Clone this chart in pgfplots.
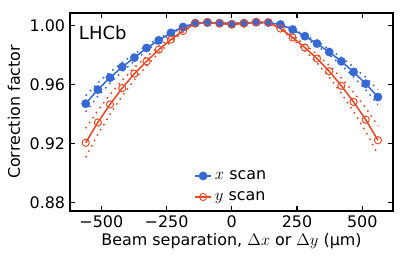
\documentclass[border=0pt]{standalone}
\usepackage{fontspec}
\setmainfont{DejaVu Sans}
\usepackage{pgfplots}
\pgfplotsset{compat=1.18}
\definecolor{cblue}{RGB}{55,105,212}
\definecolor{cred}{RGB}{232,72,35}
\begin{document}
\fontsize{11.5}{13.8}\selectfont
\begin{tikzpicture}
\begin{axis}[
  scale only axis,
  width=232.6bp, height=142.6bp,
  xmin=-620, xmax=618,
  ymin=0.8745, ymax=1.0083,
  axis line style={line width=0.9bp},
  every tick/.style={line width=0.8bp, black},
  major tick length=3.6bp,
  tick align=inside,
  xtick={-500,-250,0,250,500},
  xticklabels={−500,−250,0,250,500},
  ytick={0.88,0.92,0.96,1.00},
  yticklabels={0.88,0.92,0.96,1.00},
  minor tick num=0,
  tick label style={font=\fontsize{11.5}{13.8}\selectfont},
  xticklabel style={yshift=0.5bp},
  yticklabel style={xshift=0.5bp},
  label style={font=\fontsize{11.5}{13.8}\selectfont},
  xlabel={Beam separation, $\Delta x$ or $\Delta y$ (μm)},
  ylabel={Correction factor},
  xlabel style={yshift=4bp},
  ylabel style={yshift=-1bp},
  legend style={draw=none, fill=none, at={(0.5,0.02)}, anchor=south,
    font=\fontsize{11.5}{13.8}\selectfont, row sep=3bp,
    inner sep=1bp},
  legend cell align=left,
  legend image code/.code={\draw[mark repeat=2,mark phase=2] plot coordinates {(0cm,0cm) (0.21cm,0cm) (0.42cm,0cm)};},
  clip=false,
]
% blue bands
\addplot[cblue, line width=1.1bp, dash pattern=on 1.1bp off 3.3bp, forget plot] coordinates {
(-560,0.9525) (-513.33,0.9611) (-466.67,0.9683) (-420,0.9748) (-373.33,0.9805) (-326.67,0.9863) (-280,0.9910) (-233.33,0.9955) (-186.67,0.9993) (-140,1.0016) (-93.33,1.0018) (-46.67,1.0017) (0,1.0017) (46.67,1.0017) (93.33,1.0018) (140,1.0018) (186.67,1.0008) (233.33,0.9974) (280,0.9935) (326.67,0.9890) (373.33,0.9839) (420,0.9782) (466.67,0.9718) (513.33,0.9647) (560,0.9566)};
\addplot[cblue, line width=1.1bp, dash pattern=on 1.1bp off 3.3bp, forget plot] coordinates {
(-560,0.9415) (-513.33,0.9520) (-466.67,0.9609) (-420,0.9688) (-373.33,0.9757) (-326.67,0.9829) (-280,0.9886) (-233.33,0.9941) (-186.67,0.9985) (-140,1.0012) (-93.33,1.0015) (-46.67,1.0014) (0,1.0014) (46.67,1.0014) (93.33,1.0015) (140,1.0015) (186.67,1.0002) (233.33,0.9968) (280,0.9917) (326.67,0.9862) (373.33,0.9799) (420,0.9730) (466.67,0.9650) (513.33,0.9564) (560,0.9465)};
% red bands
\addplot[cred, line width=1.1bp, dash pattern=on 1.1bp off 3.3bp, forget plot] coordinates {
(-560,0.9304) (-513.33,0.9424) (-466.67,0.9532) (-420,0.9628) (-373.33,0.9715) (-326.67,0.9788) (-280,0.9857) (-233.33,0.9917) (-186.67,0.9968) (-140,1.0014) (-93.33,1.0016) (-46.67,1.0016) (0,1.0016) (46.67,1.0016) (93.33,1.0016) (140,1.0016) (186.67,0.9983) (233.33,0.9929) (280,0.9870) (326.67,0.9804) (373.33,0.9729) (420,0.9643) (466.67,0.9547) (513.33,0.9441) (560,0.9319)};
\addplot[cred, line width=1.1bp, dash pattern=on 1.1bp off 3.3bp, forget plot] coordinates {
(-560,0.9108) (-513.33,0.9262) (-466.67,0.9398) (-420,0.9522) (-373.33,0.9631) (-326.67,0.9724) (-280,0.9813) (-233.33,0.9889) (-186.67,0.9954) (-140,1.0010) (-93.33,1.0013) (-46.67,1.0013) (0,1.0013) (46.67,1.0013) (93.33,1.0013) (140,1.0013) (186.67,0.9973) (233.33,0.9905) (280,0.9829) (326.67,0.9746) (373.33,0.9649) (420,0.9539) (466.67,0.9417) (513.33,0.9283) (560,0.9127)};
% x scan
\addplot[cblue, line width=1.1bp, mark=*, mark size=2.6bp, mark options={solid, fill=cblue, draw=cblue}] coordinates {
(-560,0.9470) (-513.33,0.9565) (-466.67,0.9646) (-420,0.9718) (-373.33,0.9781) (-326.67,0.9846) (-280,0.9898) (-233.33,0.9948) (-186.67,0.9988) (-140,1.0014) (-93.33,1.0018) (-46.67,1.0014) (0,1.0007) (46.67,1.0014) (93.33,1.0020) (140,1.0018) (186.67,1.0005) (233.33,0.9971) (280,0.9926) (326.67,0.9876) (373.33,0.9819) (420,0.9756) (466.67,0.9684) (513.33,0.9605) (560,0.9515)};
\addlegendentry{$x$ scan}
% y scan
\addplot[cred, line width=1.1bp, mark=o, mark size=2.6bp, mark options={solid, draw=cred, line width=0.7bp}] coordinates {
(-560,0.9206) (-513.33,0.9343) (-466.67,0.9465) (-420,0.9575) (-373.33,0.9673) (-326.67,0.9756) (-280,0.9835) (-233.33,0.9903) (-186.67,0.9961) (-140,1.0012) (-93.33,1.0022) (-46.67,1.0012) (0,1.0005) (46.67,1.0012) (93.33,1.0022) (140,1.0018) (186.67,0.9978) (233.33,0.9917) (280,0.9849) (326.67,0.9775) (373.33,0.9689) (420,0.9591) (466.67,0.9482) (513.33,0.9362) (560,0.9223)};
\addlegendentry{$y$ scan}
\node[anchor=north west, font=\fontsize{13}{15}\selectfont, inner sep=0pt] at (rel axis cs:0.027,0.935) {LHCb};
\end{axis}
\path[use as bounding box] (-50.4bp,-33.84bp) rectangle (242.64bp,151.92bp);
\end{tikzpicture}
\end{document}
